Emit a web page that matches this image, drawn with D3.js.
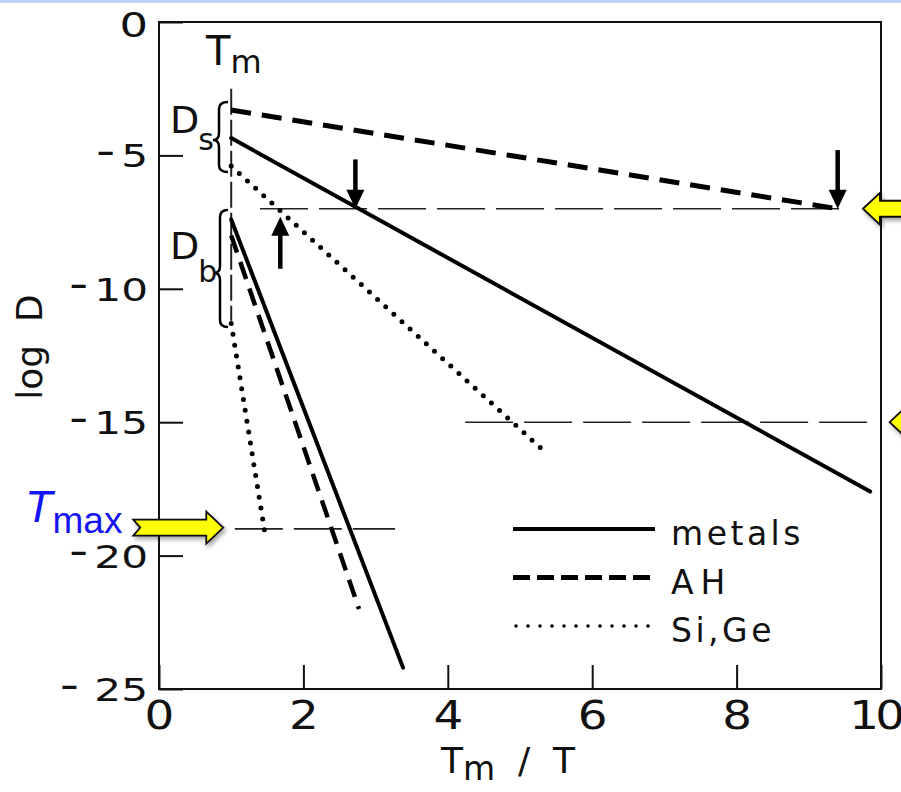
<!DOCTYPE html>
<html>
<head>
<meta charset="utf-8">
<script src="https://cdn.jsdelivr.net/npm/d3@7"></script>
<style>
  html, body { margin: 0; padding: 0; background: #fff; }
  svg { display: block; font-family: "DejaVu Sans", sans-serif; }
  text { fill: #111; }
</style>
</head>
<body>
<svg id="chart" width="901" height="792"></svg>
<script>
// Axis ticks
const xTicks = [0, 2, 4, 6, 8, 10];
const yTicks = [0, -5, -10, -15, -20, -25];

// Diffusion lines: [Tm/T, log D] end points
const surfaceMetals = [[1, -4.35], [9.85, -17.6]];
const surfaceAH     = [[1, -3.3],  [9.4, -7.0]];
const surfaceSiGe   = [[1, -5.4],  [5.3, -16.0]];
const bulkMetals    = [[1, -7.4],  [3.38, -24.2]];
const bulkAH        = [[1, -8.0],  [2.77, -22.0]];
const bulkSiGe      = [[1, -11.3], [1.47, -19.2]];

// Horizontal reference levels (log D) and their x extents
const refLevels  = [-7, -15, -19];
const refExtents = [[1.4, 9.55], [4.24, 9.87], [1.05, 3.27]];

// Black arrows: [x, from logD, to logD]
const blackArrows = [[2.72, -5.15, -7.0], [9.4, -4.8, -7.0], [1.68, -9.25, -7.3]];

// Legend
const legendLabels = ["metals", "AH", "Si,Ge"];

const svg = d3.select("#chart");
const W = 901, H = 792;
const x = d3.scaleLinear().domain([0, 10]).range([159, 881]);
const y = d3.scaleLinear().domain([-25, 0]).range([689, 22]);

// drop shadow for the highlight arrows
const defs = svg.append("defs");
const f = defs.append("filter").attr("id", "shadow").attr("x", "-20%").attr("y", "-40%").attr("width", "150%").attr("height", "200%");
f.append("feDropShadow").attr("dx", 2).attr("dy", 3).attr("stdDeviation", 2).attr("flood-color", "#000").attr("flood-opacity", 0.35);

svg.append("rect").attr("width", W).attr("height", H).attr("fill", "#fff");
svg.append("rect").attr("x", 0).attr("y", 0).attr("width", W).attr("height", 3).attr("fill", "#bcd3f7");

// axes with inward ticks
const xAxis = svg.append("g").attr("transform", `translate(0,${y(-25)})`)
  .call(d3.axisBottom(x).tickValues(xTicks).tickSize(-24).tickPadding(12).tickFormat(d3.format("d")));
const yAxis = svg.append("g").attr("transform", `translate(${x(0)},0)`)
  .call(d3.axisLeft(y).tickValues(yTicks).tickSize(-24).tickPadding(10).tickFormat(d3.format("d")));
[xAxis, yAxis].forEach(g => {
  g.select(".domain").remove();
  g.selectAll(".tick line").attr("stroke", "#111").attr("stroke-width", 2);
  g.selectAll(".tick text").attr("fill", "#111").attr("font-family", "DejaVu Sans, sans-serif");
});

// wide, lettering-guide style numerals
const sxX = 1.2, sxY = 1.32;
xAxis.selectAll(".tick text").attr("font-size", 39).attr("transform", `scale(${sxX},1)`);
xAxis.selectAll(".tick text").filter(d => d === 10)
  .attr("text-anchor", "end").attr("x", 20 / sxX).attr("letter-spacing", -3);

yAxis.selectAll(".tick text")
  .attr("font-size", 32).attr("dy", null)
  .attr("transform", `scale(${sxY},1)`).attr("x", -11 / sxY)
  .each(function (d) {
    const t = d3.select(this).text("");
    if (d < 0) {
      t.append("tspan").attr("font-size", 27).attr("font-weight", "bold").attr("dy", 5).text("\u2013");
      t.append("tspan").attr("dx", d === -25 ? 12 : 5).attr("dy", 6.5).text(Math.abs(d));
    } else {
      t.append("tspan").attr("font-size", 34).attr("dy", 14).text(d);
    }
  });

// frame
svg.append("rect").attr("x", x(0)).attr("y", y(0)).attr("width", x(10) - x(0)).attr("height", y(-25) - y(0))
  .attr("fill", "none").attr("stroke", "#111").attr("stroke-width", 2);

const line = d3.line().x(d => x(d[0])).y(d => y(d[1]));

// reference levels
refLevels.forEach((lv, i) => {
  svg.append("path").datum(refExtents[i].map(e => [e, lv])).attr("d", line)
    .attr("stroke", "#222").attr("stroke-width", 1.6).attr("fill", "none").attr("stroke-dasharray", "48 11");
});

// melting point marker at Tm/T = 1
svg.append("path").datum([[1, -2.5], [1, -11.2]]).attr("d", line)
  .attr("stroke", "#222").attr("stroke-width", 2).attr("fill", "none").attr("stroke-dasharray", "26 5");

const styles = {
  metals: { w: 4, dash: null, cap: "round" },
  AH:     { w: 5, dash: "20 11", cap: "butt" },
  SiGe:   { w: 5, dash: "0 11", cap: "round" }
};
const drawSeries = (data, st) => svg.append("path").datum(data).attr("d", line)
  .attr("fill", "none").attr("stroke", "#000").attr("stroke-width", st.w)
  .attr("stroke-linecap", st.cap).attr("stroke-dasharray", st.dash);

drawSeries(surfaceMetals, styles.metals);
drawSeries(surfaceAH, styles.AH);
drawSeries(surfaceSiGe, styles.SiGe);
drawSeries(bulkMetals, styles.metals);
drawSeries(bulkAH, { w: 4.5, dash: "18 10", cap: "butt" });
drawSeries(bulkSiGe, styles.SiGe);

// black arrows
blackArrows.forEach(([ax, y0, y1]) => {
  const px = x(ax), p0 = y(y0), p1 = y(y1);
  const dir = p1 > p0 ? 1 : -1;
  const head = 17;
  svg.append("line").attr("x1", px).attr("x2", px).attr("y1", p0).attr("y2", p1 - dir * head)
    .attr("stroke", "#000").attr("stroke-width", 4.5);
  svg.append("path").attr("d", `M${px},${p1} L${px - 9},${p1 - dir * (head + 2)} L${px + 9},${p1 - dir * (head + 2)} Z`)
    .attr("fill", "#000");
});

// braces
function brace(xr, xs, xt, yt, ym, yb, r) {
  return `M${xr},${yt} Q${xs},${yt} ${xs},${yt + r} L${xs},${ym - r} Q${xs},${ym} ${xt},${ym} ` +
         `Q${xs},${ym} ${xs},${ym + r} L${xs},${yb - r} Q${xs},${yb} ${xr},${yb}`;
}
svg.append("path").attr("d", brace(228, 219, 213, 102, 140, 172, 7))
  .attr("fill", "none").attr("stroke", "#000").attr("stroke-width", 2.5);
svg.append("path").attr("d", brace(228, 220, 214, 210, 273, 327, 7))
  .attr("fill", "none").attr("stroke", "#000").attr("stroke-width", 2.5);

// Ds, Db, Tm labels
const ds = svg.append("text").attr("x", 170).attr("y", 133).attr("font-size", 38);
ds.append("tspan").text("D");
ds.append("tspan").attr("font-size", 30).attr("dy", 17).attr("dx", -1).text("s");
const db = svg.append("text").attr("x", 170).attr("y", 259).attr("font-size", 38);
db.append("tspan").text("D");
db.append("tspan").attr("font-size", 30).attr("dy", 23).attr("dx", -1).text("b");
const tm = svg.append("text").attr("x", 206).attr("y", 65).attr("font-size", 40);
tm.append("tspan").text("T");
tm.append("tspan").attr("font-size", 32).attr("dy", 8).attr("dx", 0).text("m");

// axis titles
const xt = svg.append("text").attr("x", 508).attr("y", 773).attr("text-anchor", "middle").attr("font-size", 36)
  .style("white-space", "pre");
xt.append("tspan").text("T");
xt.append("tspan").attr("font-size", 33).attr("dy", 7).text("m");
xt.append("tspan").attr("dy", -7).text("  /  T");

svg.append("text").attr("transform", "translate(42,347) rotate(-90)").attr("text-anchor", "middle")
  .attr("font-size", 36).style("white-space", "pre").text("log  D");

// legend
const legendStyles = [
  { w: 4, dash: null, cap: "butt" },
  { w: 5, dash: "17 7", cap: "butt" },
  { w: 3.5, dash: "0 12", cap: "round" }
];
legendLabels.forEach((lab, i) => {
  const ly = 529 + i * 48.5;
  const st = legendStyles[i];
  svg.append("line").attr("x1", i === 2 ? 516 : 513).attr("x2", 655).attr("y1", ly).attr("y2", ly)
    .attr("stroke", "#000").attr("stroke-width", st.w).attr("stroke-dasharray", st.dash).attr("stroke-linecap", st.cap);
  svg.append("text").attr("x", 671).attr("y", ly + 16).attr("font-size", 33)
    .attr("letter-spacing", lab === "AH" ? 7 : 3.5).text(lab);
});

// highlight arrows (yellow)
function blockArrow(tipX, tipY, dir, len) {
  const hl = 17, hh = 16, sh = 8, notch = 7;
  const pts = [
    [0, 0], [-hl, -hh], [-hl, -sh], [-len, -sh], [-len + notch, 0], [-len, sh], [-hl, sh], [-hl, hh]
  ].map(([a, b]) => [tipX + dir * a, tipY + b]);
  svg.append("path").attr("d", "M" + pts.join("L") + "Z")
    .attr("fill", "#ffff00").attr("stroke", "#111").attr("stroke-width", 1.8)
    .attr("stroke-linejoin", "miter").attr("filter", "url(#shadow)");
}
blockArrow(x(0.89), y(-18.95), 1, 90);
blockArrow(x(9.75), y(-7), -1, 60);
blockArrow(x(10.12), y(-15), -1, 40);

// Tmax label
const tmax = svg.append("text").attr("x", 25).attr("y", 522).attr("fill", "#1414f5")
  .attr("font-family", "Liberation Sans, Arial, sans-serif");
tmax.append("tspan").attr("font-size", 45).attr("font-style", "italic").attr("fill", "#1414f5").text("T");
tmax.append("tspan").attr("font-size", 37).attr("dy", 11).attr("dx", 0).attr("fill", "#1414f5").text("max");
</script>
</body>
</html>
